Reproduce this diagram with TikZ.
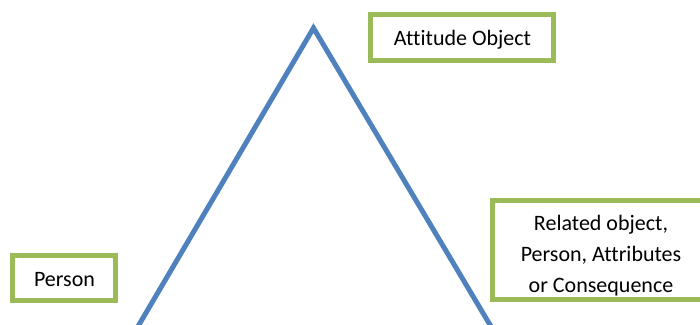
\documentclass[tikz,border=0pt]{standalone}
\usepackage{fontspec}
\setmainfont[Ligatures=NoCommon]{Carlito}
\definecolor{triblue}{HTML}{4F81BD}
\definecolor{boxgreen}{HTML}{9BBB59}
\begin{document}
\begin{tikzpicture}[x=1pt,y=-1pt,
  gbox/.style={draw=boxgreen,line width=5pt,inner sep=0pt},
  lbl/.style={inner sep=0pt,anchor=base,font=\fontsize{22}{30}\selectfont}]
\useasboundingbox (0,0) rectangle (700,324);
\clip (0,0) rectangle (700,324);
\coordinate (apex) at (313.5,28);
\coordinate (bl) at (130,340);
\coordinate (br) at (499,340);
\draw[triblue,line width=5pt,line join=miter] (bl) -- (apex) -- (br);
% texts
\node[lbl] (attT) at (462.5,45) {Attitude Object};
\node[lbl] (perT) at (64.5,286) {Person};
\node[lbl] (relA) at (601,230) {Related object,};
\node[lbl] (relB) at (601,261) {Person, Attributes};
\node[lbl] (relC) at (601,292) {or Consequence};
% boxes
\node[gbox,minimum width=183pt,minimum height=46pt] (att) at (462,37.5) {};
\node[gbox,minimum width=103pt,minimum height=45pt] (per) at (64,278) {};
\node[gbox,minimum width=218pt,minimum height=99pt] (rel) at (601,250) {};
\end{tikzpicture}
\end{document}
